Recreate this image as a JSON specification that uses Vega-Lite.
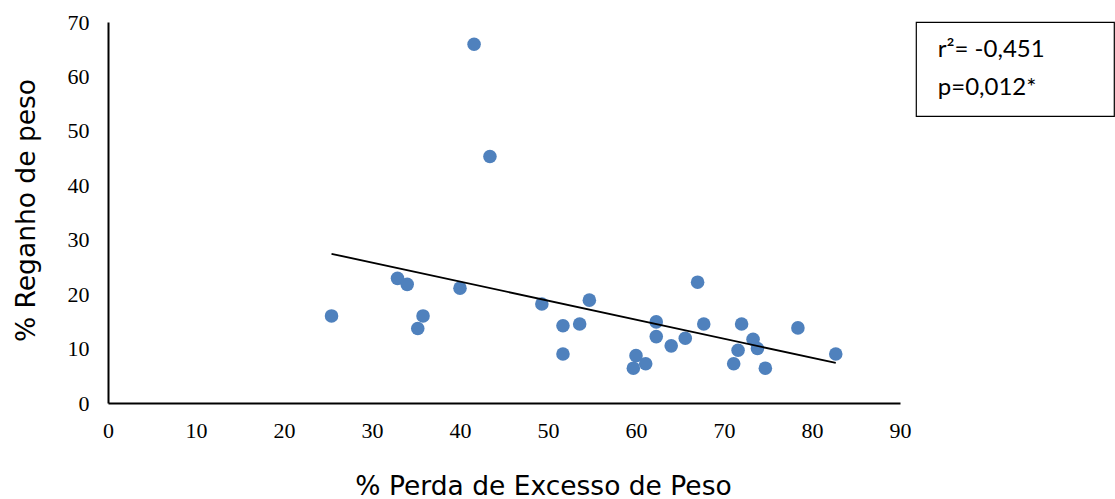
{
  "$schema": "https://vega.github.io/schema/vega-lite/v6.json",
  "padding": {"left": 13, "top": 11, "right": 0, "bottom": 0},
  "background": "white",
  "config": {"view": {"stroke": null}},
  "datasets": {
    "pts": [
      {"perda": 25.4, "reganho": 16.0},
      {"perda": 32.9, "reganho": 22.9},
      {"perda": 34.0, "reganho": 21.8},
      {"perda": 35.8, "reganho": 16.0},
      {"perda": 35.2, "reganho": 13.7},
      {"perda": 40.0, "reganho": 21.1},
      {"perda": 41.6, "reganho": 65.9},
      {"perda": 43.4, "reganho": 45.3},
      {"perda": 49.3, "reganho": 18.2},
      {"perda": 51.7, "reganho": 14.2},
      {"perda": 51.7, "reganho": 9.0},
      {"perda": 53.6, "reganho": 14.5},
      {"perda": 54.7, "reganho": 18.9},
      {"perda": 59.7, "reganho": 6.4},
      {"perda": 60.0, "reganho": 8.7},
      {"perda": 61.1, "reganho": 7.2},
      {"perda": 62.3, "reganho": 14.9},
      {"perda": 62.3, "reganho": 12.2},
      {"perda": 64.0, "reganho": 10.5},
      {"perda": 65.6, "reganho": 11.9},
      {"perda": 67.0, "reganho": 22.2},
      {"perda": 67.7, "reganho": 14.5},
      {"perda": 71.1, "reganho": 7.2},
      {"perda": 71.6, "reganho": 9.7},
      {"perda": 72.0, "reganho": 14.5},
      {"perda": 73.3, "reganho": 11.7},
      {"perda": 73.8, "reganho": 10.0},
      {"perda": 74.7, "reganho": 6.4},
      {"perda": 78.4, "reganho": 13.8},
      {"perda": 82.7, "reganho": 9.0}
    ],
    "stats": [
      {"line": 1, "label": "r²= -0,451"},
      {"line": 2, "label": "p=0,012*"}
    ]
  },
  "hconcat": [
    {
      "width": 792,
      "height": 381,
      "data": {"name": "pts"},
      "encoding": {
        "x": {
          "field": "perda",
          "type": "quantitative",
          "scale": {"domain": [0, 90], "nice": false, "zero": false},
          "axis": {
            "title": "% Perda de Excesso de Peso",
            "values": [0, 10, 20, 30, 40, 50, 60, 70, 80, 90],
            "grid": false,
            "ticks": false,
            "domainColor": "black",
            "domainWidth": 2,
            "labelFont": "Liberation Serif",
            "labelFontSize": 22,
            "labelColor": "black",
            "labelPadding": 17,
            "labelFlush": false,
            "labelOverlap": false,
            "titleFont": "DejaVu Sans",
            "titleFontSize": 26.5,
            "titleFontWeight": "normal",
            "titleColor": "black",
            "titleX": 435,
            "titleY": 91,
            "titleAlign": "center",
            "titleBaseline": "alphabetic"
          }
        },
        "y": {
          "field": "reganho",
          "type": "quantitative",
          "scale": {"domain": [0, 70], "nice": false},
          "axis": {
            "title": "% Reganho de peso",
            "values": [0, 10, 20, 30, 40, 50, 60, 70],
            "grid": false,
            "ticks": false,
            "domainColor": "black",
            "domainWidth": 2,
            "labelFont": "Liberation Serif",
            "labelFontSize": 22,
            "labelColor": "black",
            "labelPadding": 19,
            "labelFlush": false,
            "labelOverlap": false,
            "titleFont": "DejaVu Sans",
            "titleFontSize": 26.5,
            "titleFontWeight": "normal",
            "titleColor": "black",
            "titleAngle": 270,
            "titleX": -73.5,
            "titleY": 188,
            "titleAlign": "center",
            "titleBaseline": "alphabetic"
          }
        }
      },
      "layer": [
        {
          "mark": {"type": "circle", "size": 184, "color": "#4F81BD", "opacity": 1}
        },
        {
          "transform": [{"regression": "reganho", "on": "perda"}],
          "mark": {"type": "line", "color": "black", "strokeWidth": 1.8}
        }
      ]
    },
    {
      "width": 198,
      "height": 94,
      "view": {"stroke": "black", "strokeWidth": 1.2},
      "data": {"name": "stats"},
      "mark": {"type": "text", "align": "left", "baseline": "alphabetic", "font": "Lato", "fontSize": 24, "color": "black"},
      "encoding": {
        "x": {"datum": 0.11, "type": "quantitative", "scale": {"domain": [0, 1], "nice": false}, "axis": null},
        "y": {"field": "line", "type": "quantitative", "scale": {"domain": [0.079, 2.553], "reverse": true, "nice": false, "zero": false}, "axis": null},
        "text": {"field": "label"}
      }
    }
  ],
  "spacing": 16,
  "bounds": "flush"
}
